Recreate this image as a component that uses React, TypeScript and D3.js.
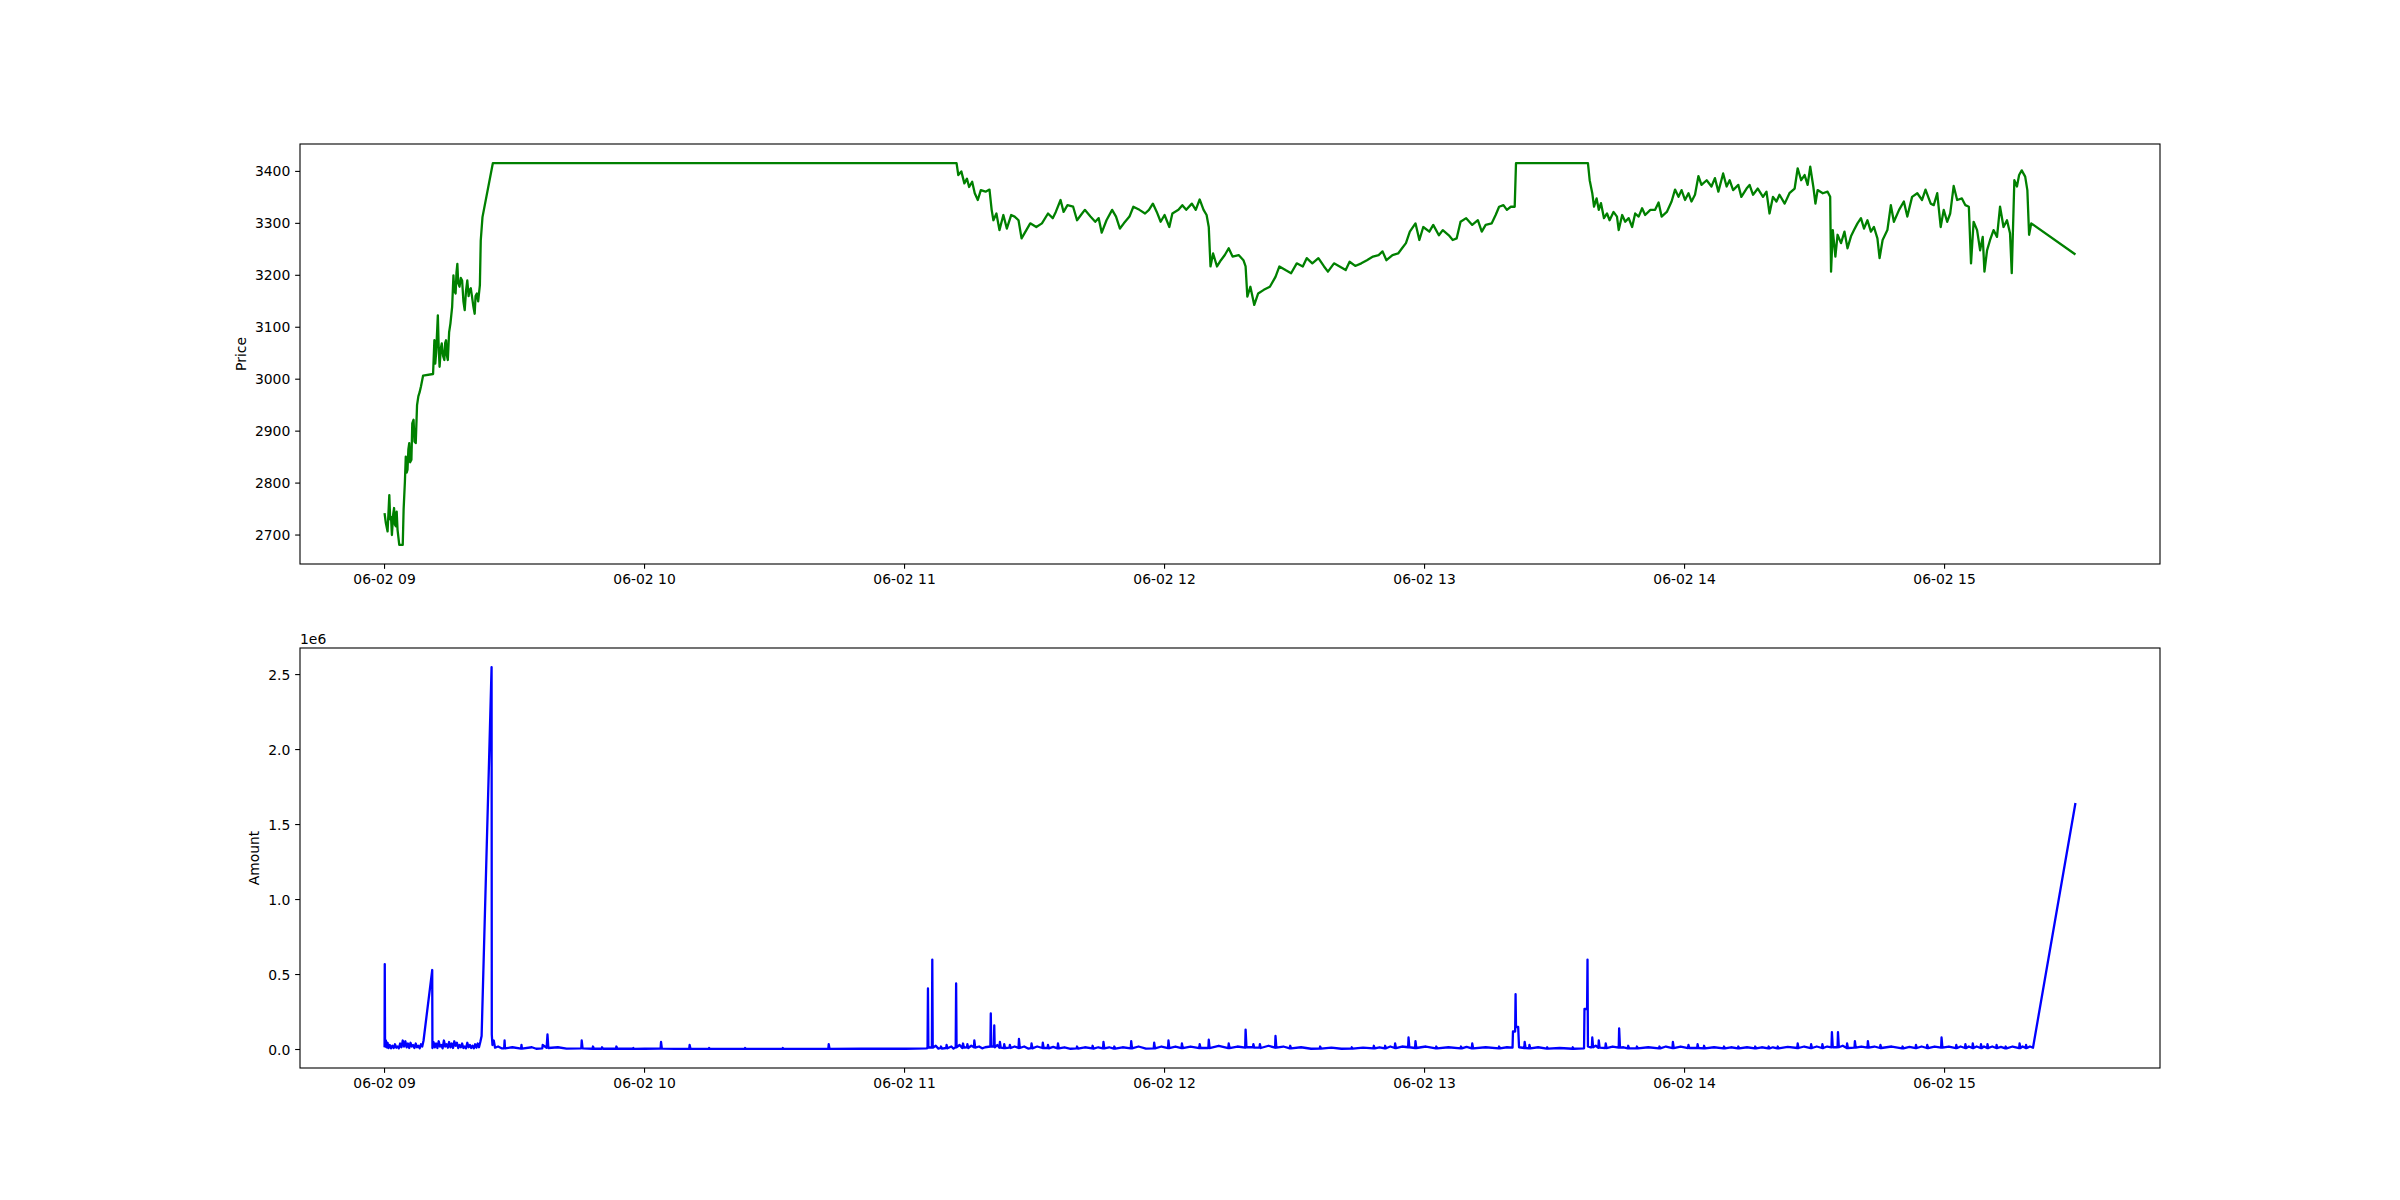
import { useEffect, useRef } from "react";
import * as d3 from "d3";

// ── Tokens ────────────────────────────────────────────────────────────────────

const FONT  = "'DejaVu Sans', sans-serif";
const GREEN = "#008000";
const BLUE  = "#0000ff";
const W = 2400, H = 1200;

// session start; every point below is [minutes after 09:00, value]
const START = new Date(2024, 5, 2, 9, 0, 0);

const priceTicks  = [2700, 2800, 2900, 3000, 3100, 3200, 3300, 3400];
const amountTicks = [0, 500000, 1000000, 1500000, 2000000, 2500000];

const pricePoints: [number, number][] = [
  // opening run-up
  [0, 2742], [0.3, 2723], [0.7, 2707], [1.1, 2777], [1.3, 2730], [1.5, 2735], [1.7, 2700],
  [2.0, 2740], [2.2, 2752], [2.4, 2720], [2.6, 2717], [2.8, 2745], [3.0, 2710], [3.4, 2681],
  [4.2, 2681], [4.4, 2749], [4.7, 2803], [4.9, 2851], [5.1, 2820], [5.3, 2826], [5.5, 2865],
  [5.7, 2877], [5.9, 2840], [6.2, 2845], [6.4, 2915], [6.7, 2922], [6.9, 2880], [7.2, 2877],
  [7.5, 2950], [7.8, 2967], [8.1, 2975], [8.4, 2986], [8.9, 3007], [11.2, 3010], [11.5, 3075],
  [11.7, 3030], [11.9, 3050], [12.3, 3123], [12.5, 3060], [12.7, 3024], [13.0, 3060],
  [13.2, 3069], [13.5, 3045], [13.8, 3037], [14.0, 3070], [14.2, 3075], [14.4, 3045],
  [14.6, 3037], [14.9, 3090], [15.2, 3107], [15.6, 3139], [15.9, 3200], [16.1, 3170],
  [16.4, 3165], [16.6, 3205], [16.8, 3222], [17.0, 3185], [17.3, 3178], [17.6, 3195],
  [17.9, 3190], [18.2, 3150], [18.5, 3133], [18.8, 3170], [19.1, 3190], [19.4, 3160],
  [19.6, 3171], [19.9, 3175], [20.2, 3158], [20.5, 3140], [20.8, 3126], [21.0, 3160],
  [21.3, 3165], [21.6, 3150], [22.0, 3181], [22.2, 3267], [22.6, 3312], [25.0, 3416],
  [132.0, 3416],
  // 11:12 – 13:21
  [132.4, 3393], [133.1, 3400], [133.8, 3377], [134.4, 3386], [134.9, 3370], [135.6, 3380],
  [136.2, 3358], [136.9, 3345], [137.6, 3364], [138.7, 3361], [139.6, 3365], [140.1, 3326],
  [140.5, 3306], [141.2, 3319], [141.9, 3287], [142.8, 3316], [143.6, 3290], [144.6, 3316],
  [145.4, 3313], [146.3, 3306], [147.0, 3271], [148.1, 3287], [149.0, 3300], [150.4, 3293],
  [151.7, 3300], [153.1, 3319], [154.2, 3310], [154.9, 3322], [156.0, 3345], [156.7, 3322],
  [157.6, 3335], [158.9, 3332], [159.8, 3306], [160.7, 3316], [161.6, 3326], [162.9, 3313],
  [164.0, 3303], [164.8, 3310], [165.5, 3282], [166.6, 3306], [167.9, 3326], [168.8, 3313],
  [169.7, 3290], [170.6, 3300], [171.9, 3313], [172.8, 3332], [174.2, 3326], [175.5, 3319],
  [176.4, 3326], [177.3, 3338], [178.2, 3322], [179.1, 3303], [180.0, 3316], [181.1, 3293],
  [181.8, 3319], [183.2, 3326], [184.1, 3335], [185.0, 3326], [186.3, 3338], [187.2, 3326],
  [188.1, 3346], [189.0, 3326], [189.7, 3316], [190.2, 3293], [190.6, 3217], [191.2, 3242],
  [192.1, 3217], [193.0, 3229], [193.9, 3239], [194.8, 3252], [195.7, 3236], [197.1, 3239],
  [198.2, 3229], [198.7, 3217], [199.1, 3159], [199.8, 3178], [200.7, 3143], [201.6, 3165],
  [202.9, 3172], [204.3, 3178], [205.6, 3197], [206.5, 3217], [207.9, 3210], [209.2, 3204],
  [210.5, 3223], [211.9, 3217], [212.8, 3233], [214.1, 3223], [215.5, 3233], [216.8, 3217],
  [217.7, 3207], [219.1, 3223], [220.4, 3217], [221.8, 3210], [222.7, 3226], [224.0, 3218],
  [225.4, 3223], [226.7, 3229], [228.1, 3236], [229.4, 3239], [230.3, 3246], [231.2, 3229],
  [232.6, 3239], [233.9, 3242], [234.8, 3252], [235.7, 3262], [236.6, 3284], [237.9, 3300],
  [238.8, 3268], [239.7, 3293], [241.1, 3284], [242.0, 3297], [243.3, 3277], [244.2, 3287],
  [245.6, 3277], [246.5, 3268], [247.4, 3271], [248.3, 3303], [249.6, 3310], [251.0, 3297],
  [252.3, 3306], [253.2, 3284], [254.1, 3297], [255.5, 3300], [256.4, 3316], [257.2, 3332],
  [258.2, 3335], [259.0, 3326], [259.9, 3332], [260.8, 3332], [261.1, 3416],
  [277.7, 3416],
  // 13:38 – close
  [278.1, 3383], [278.7, 3358], [279.1, 3332], [279.7, 3348], [280.2, 3326], [280.7, 3339],
  [281.4, 3310], [282.1, 3319], [282.7, 3306], [283.6, 3322], [284.4, 3313], [284.8, 3287],
  [285.6, 3316], [286.3, 3303], [287.1, 3310], [287.9, 3293], [288.6, 3319], [289.4, 3313],
  [290.2, 3329], [290.9, 3316], [292.1, 3326], [293.2, 3326], [294.0, 3340], [294.7, 3313],
  [295.9, 3322], [297.0, 3342], [297.8, 3365], [298.6, 3351], [299.3, 3364], [300.1, 3345],
  [300.9, 3358], [301.6, 3342], [302.4, 3355], [303.2, 3391], [303.9, 3374], [305.1, 3383],
  [306.2, 3371], [307.0, 3387], [307.8, 3361], [308.9, 3396], [309.7, 3371], [310.4, 3383],
  [311.2, 3364], [312.4, 3374], [313.1, 3351], [314.3, 3367], [315.0, 3374], [315.8, 3355],
  [316.9, 3367], [318.1, 3351], [318.9, 3361], [319.6, 3319], [320.4, 3351], [321.2, 3342],
  [321.9, 3355], [323.1, 3338], [324.2, 3358], [325.4, 3367], [326.1, 3406], [326.9, 3383],
  [327.7, 3393], [328.4, 3374], [329.0, 3409], [329.7, 3371], [330.2, 3338], [330.7, 3364],
  [331.9, 3358], [333.0, 3361], [333.6, 3351], [333.8, 3207], [334.2, 3287], [334.8, 3236],
  [335.3, 3278], [336.1, 3262], [336.9, 3284], [337.6, 3252], [338.4, 3275], [339.1, 3287],
  [339.9, 3300], [340.7, 3310], [341.4, 3290], [342.2, 3306], [343.0, 3284], [343.7, 3293],
  [344.5, 3271], [345.0, 3233], [345.7, 3268], [346.8, 3287], [347.6, 3335], [348.3, 3303],
  [349.5, 3326], [350.6, 3342], [351.4, 3313], [352.5, 3351], [353.7, 3358], [354.8, 3345],
  [355.6, 3365], [356.8, 3338], [357.5, 3335], [358.3, 3358], [359.1, 3293], [359.8, 3326],
  [360.6, 3303], [361.3, 3319], [362.1, 3372], [362.9, 3345], [364.0, 3348], [364.8, 3335],
  [365.6, 3332], [366.1, 3223], [366.7, 3303], [367.5, 3287], [368.2, 3248], [368.8, 3274],
  [369.2, 3207], [369.8, 3248], [370.5, 3268], [371.3, 3287], [372.1, 3274], [372.8, 3332],
  [373.6, 3293], [374.4, 3306], [375.1, 3281], [375.5, 3204], [376.1, 3383], [376.7, 3371],
  [377.2, 3393], [377.8, 3402], [378.6, 3390], [379.1, 3364], [379.5, 3278], [380.0, 3300],
  [390.2, 3240],
];

const amountPoints: [number, number][] = [
  // 09:00 – 09:25
  [0, 15000], [0.05, 570000], [0.12, 20000], [0.3, 60000], [0.5, 15000], [0.7, 45000],
  [0.9, 10000], [1.2, 30000], [1.5, 8000], [1.8, 25000], [2.1, 10000], [2.4, 35000],
  [2.7, 12000], [3.0, 20000], [3.3, 8000], [3.6, 40000], [3.9, 15000], [4.2, 60000],
  [4.5, 20000], [4.8, 55000], [5.1, 15000], [5.4, 40000], [5.7, 10000], [6.0, 45000],
  [6.3, 20000], [6.6, 30000], [6.9, 10000], [7.2, 40000], [7.5, 15000], [7.8, 25000],
  [8.1, 8000], [8.4, 35000], [8.7, 20000], [9.0, 60000],
  [11.0, 530000], [11.05, 10000], [11.3, 50000], [11.6, 15000], [11.9, 40000], [12.2, 10000],
  [12.5, 55000], [12.8, 20000], [13.1, 30000], [13.4, 8000], [13.7, 60000], [14.0, 20000],
  [14.3, 35000], [14.6, 12000], [14.9, 50000], [15.2, 15000], [15.5, 40000], [15.8, 10000],
  [16.1, 55000], [16.4, 25000], [16.7, 45000], [17.0, 10000], [17.3, 30000], [17.6, 15000],
  [17.9, 40000], [18.2, 10000], [18.5, 20000], [18.8, 8000], [19.1, 45000], [19.4, 15000],
  [19.7, 30000], [20.0, 10000], [20.3, 25000], [20.6, 8000], [20.9, 35000], [21.2, 12000],
  [21.5, 40000], [21.8, 15000], [22.1, 50000], [22.4, 90000],
  [24.7, 2550000], [24.75, 100000], [24.9, 30000], [25.2, 60000], [25.5, 12000],
  // quiet stretch
  [26.2, 20000], [27.0, 8000], [27.6, 8000], [27.7, 60000], [27.8, 8000], [29.5, 15000],
  [31.5, 6000], [31.6, 30000], [31.7, 6000], [34.0, 15000], [35.0, 5000], [36.4, 8000],
  [36.5, 30000], [37.4, 12000], [37.6, 100000], [37.8, 10000], [40.0, 15000], [42.0, 6000],
  [45.4, 8000], [45.5, 60000], [45.7, 8000], [48.0, 5000], [48.1, 20000], [48.3, 5000],
  [50.1, 5000], [50.2, 15000], [50.4, 5000], [53.4, 5000], [53.5, 20000], [53.7, 5000],
  [57.3, 5000], [57.4, 10000], [57.6, 4000], [60.0, 5000], [63.7, 6000], [63.8, 50000],
  [64.0, 6000], [67.0, 4000], [70.3, 5000], [70.4, 30000], [70.6, 5000], [74.8, 4000],
  [74.9, 10000], [75.1, 4000], [83.1, 4000], [83.2, 10000], [83.4, 4000], [91.8, 4000],
  [91.9, 10000], [92.1, 4000], [102.4, 4000], [102.5, 35000], [102.7, 4000], [110.0, 5000],
  [120.3, 5000],
  // 11:05 – close
  [125.0, 8000], [125.3, 10000], [125.4, 407000], [125.5, 12000], [126.3, 15000],
  [126.4, 600000], [126.5, 12000], [127.2, 25000], [127.8, 6000], [128.3, 10000],
  [128.4, 20000], [128.6, 6000], [129.6, 10000], [129.7, 30000], [129.9, 8000], [130.8, 20000],
  [131.3, 6000], [131.8, 15000], [131.9, 440000], [132.0, 15000], [132.7, 30000],
  [133.3, 10000], [133.5, 40000], [133.7, 12000], [134.4, 15000], [134.5, 35000],
  [134.7, 10000], [135.4, 25000], [136.0, 15000], [136.1, 60000], [136.3, 12000],
  [137.2, 20000], [137.9, 8000], [138.6, 15000], [139.8, 20000], [139.9, 240000],
  [140.0, 20000], [140.6, 20000], [140.7, 160000], [140.8, 15000], [141.4, 30000],
  [141.9, 12000], [142.0, 50000], [142.2, 12000], [142.9, 10000], [143.0, 35000],
  [143.2, 10000], [144.2, 12000], [144.3, 30000], [144.5, 10000], [145.4, 20000],
  [146.3, 10000], [146.4, 70000], [146.6, 10000], [147.6, 20000], [148.5, 6000],
  [149.2, 10000], [149.3, 40000], [149.5, 8000], [150.6, 20000], [151.8, 10000],
  [151.9, 45000], [152.1, 10000], [153.0, 10000], [153.1, 30000], [153.3, 8000],
  [154.3, 18000], [155.3, 8000], [155.4, 40000], [155.6, 8000], [156.9, 15000], [158.3, 5000],
  [159.7, 8000], [159.8, 20000], [160.0, 6000], [161.6, 15000], [163.3, 8000], [163.4, 25000],
  [163.6, 6000], [164.7, 15000], [165.8, 8000], [165.9, 50000], [166.1, 8000], [167.2, 15000],
  [168.3, 6000], [168.4, 20000], [168.6, 6000], [170.3, 15000], [172.2, 8000], [172.3, 55000],
  [172.5, 8000], [174.0, 20000], [175.7, 6000], [177.5, 8000], [177.6, 45000], [177.8, 8000],
  [179.3, 20000], [180.8, 10000], [180.9, 60000], [181.1, 10000], [182.5, 20000],
  [183.9, 10000], [184.0, 40000], [184.2, 10000], [186.0, 20000], [188.0, 10000],
  [188.1, 35000], [188.3, 10000], [190.1, 10000], [190.2, 65000], [190.4, 10000],
  [192.5, 25000], [194.7, 10000], [194.8, 40000], [195.0, 10000], [196.8, 20000],
  [198.6, 12000], [198.7, 133000], [198.9, 15000], [200.4, 15000], [200.5, 35000],
  [200.7, 12000], [201.9, 12000], [202.0, 35000], [202.2, 10000], [204.0, 25000],
  [205.5, 12000], [205.6, 90000], [205.8, 12000], [207.4, 20000], [208.9, 8000],
  [209.0, 25000], [209.2, 8000], [211.5, 15000], [213.8, 5000], [215.8, 6000], [215.9, 20000],
  [216.1, 6000], [218.5, 12000], [220.8, 5000], [223.1, 6000], [223.2, 15000], [223.4, 6000],
  [225.8, 12000], [228.2, 8000], [228.3, 25000], [228.5, 8000], [229.6, 15000], [230.8, 8000],
  [230.9, 25000], [231.1, 8000], [232.1, 20000], [233.1, 10000], [233.2, 40000],
  [233.4, 10000], [234.8, 20000], [236.2, 15000], [236.3, 80000], [236.5, 15000],
  [237.8, 10000], [237.9, 55000], [238.1, 10000], [240.3, 20000], [242.6, 8000],
  [242.7, 20000], [242.9, 8000], [245.5, 15000], [248.3, 8000], [248.4, 20000], [248.6, 8000],
  [249.7, 18000], [250.9, 8000], [251.0, 40000], [251.2, 8000], [254.1, 15000], [257.1, 8000],
  [257.2, 20000], [257.4, 8000], [259.0, 15000], [260.3, 12000], [260.4, 120000],
  [260.9, 120000], [261.0, 369000], [261.1, 150000], [261.6, 150000], [261.8, 15000],
  [263.0, 10000], [263.1, 50000], [263.3, 10000], [264.1, 8000], [264.2, 30000], [264.4, 8000],
  [266.2, 15000], [268.2, 6000], [268.3, 15000], [268.5, 6000], [271.2, 10000], [274.1, 5000],
  [274.2, 15000], [274.4, 5000], [276.8, 8000], [276.9, 270000], [277.5, 270000],
  [277.6, 600000], [277.7, 20000], [278.2, 15000], [278.6, 15000], [278.7, 80000],
  [278.9, 15000], [279.5, 25000], [280.1, 12000], [280.2, 60000], [280.4, 12000],
  [281.7, 10000], [281.8, 40000], [282.0, 10000], [283.4, 20000], [284.8, 12000],
  [284.9, 140000], [285.1, 12000], [285.9, 15000], [286.9, 8000], [287.0, 25000],
  [287.2, 8000], [288.9, 8000], [289.0, 20000], [289.2, 8000], [291.6, 15000], [294.1, 8000],
  [294.2, 20000], [294.4, 8000], [295.7, 20000], [297.2, 10000], [297.3, 50000],
  [297.5, 10000], [299.1, 20000], [300.8, 10000], [300.9, 30000], [301.1, 10000],
  [302.9, 10000], [303.0, 35000], [303.2, 10000], [304.4, 8000], [304.5, 25000], [304.7, 8000],
  [306.8, 15000], [309.0, 8000], [309.1, 20000], [309.3, 8000], [310.7, 15000], [312.3, 8000],
  [312.4, 20000], [312.6, 8000], [314.4, 15000], [316.2, 8000], [316.3, 20000], [316.5, 8000],
  [317.8, 15000], [319.3, 8000], [319.4, 20000], [319.6, 8000], [320.4, 15000], [321.4, 8000],
  [321.5, 20000], [321.7, 8000], [323.8, 18000], [326.0, 10000], [326.1, 40000],
  [326.3, 10000], [327.6, 20000], [329.1, 10000], [329.2, 35000], [329.4, 10000],
  [330.5, 20000], [331.7, 10000], [331.8, 35000], [332.0, 10000], [332.9, 20000],
  [333.9, 15000], [334.0, 115000], [334.2, 15000], [335.3, 15000], [335.4, 115000],
  [335.6, 15000], [336.5, 25000], [337.4, 10000], [337.5, 40000], [337.7, 10000],
  [339.2, 12000], [339.3, 55000], [339.5, 12000], [340.8, 20000], [342.2, 12000],
  [342.3, 55000], [342.5, 12000], [343.8, 20000], [345.1, 10000], [345.2, 30000],
  [345.4, 10000], [347.8, 20000], [350.2, 8000], [350.3, 20000], [350.5, 8000], [351.9, 18000],
  [353.3, 10000], [353.4, 30000], [353.6, 10000], [354.7, 20000], [355.9, 10000],
  [356.0, 30000], [356.2, 10000], [357.7, 20000], [359.2, 12000], [359.3, 80000],
  [359.5, 12000], [361.0, 20000], [362.6, 10000], [362.7, 30000], [362.9, 10000],
  [363.7, 20000], [364.7, 10000], [364.8, 35000], [365.0, 10000], [365.6, 20000],
  [366.4, 10000], [366.5, 40000], [366.7, 10000], [367.4, 20000], [368.3, 10000],
  [368.4, 35000], [368.6, 10000], [369.1, 20000], [369.8, 10000], [369.9, 35000],
  [370.1, 10000], [371.0, 20000], [371.9, 10000], [372.0, 30000], [372.2, 10000],
  [373.0, 18000], [374.0, 8000], [374.1, 20000], [374.3, 8000], [375.7, 20000],
  [377.2, 10000], [377.3, 40000], [377.5, 10000], [378.0, 20000], [378.7, 10000],
  [378.8, 30000], [379.0, 10000], [379.7, 20000], [380.4, 12000], [390.2, 1644000],
];

// ── Helpers ───────────────────────────────────────────────────────────────────

const toDate = (m: number) => new Date(START.getTime() + m * 60000);

// matplotlib-style 5% autoscale margin
function padded(lo: number, hi: number): [number, number] {
  const p = (hi - lo) * 0.05;
  return [lo - p, hi + p];
}

type Panel = {
  top: number;
  points: [number, number][];
  color: string;
  ticks: number[];
  fmt: (v: number) => string;
  label: string;
  labelX: number;
  offsetText?: string;
};

const LEFT = 300, RIGHT = 2160, AX_H = 420;
const TICK = 4.86, PAD = 4.86, FS = 13.9;

export default function App() {
  const svgRef = useRef<SVGSVGElement>(null);

  useEffect(() => {
    if (!svgRef.current) return;
    const svg = d3.select(svgRef.current);
    svg.selectAll("*").remove();

    const allMin = [...pricePoints, ...amountPoints].map(d => d[0]);
    const [t0, t1] = padded(d3.min(allMin)!, d3.max(allMin)!);
    const x = d3.scaleTime().domain([toDate(t0), toDate(t1)]).range([LEFT, RIGHT]);
    const hourTicks = d3.timeHour.range(toDate(0), toDate(t1));
    const fmtX = d3.timeFormat("%m-%d %H");

    const panels: Panel[] = [
      { top: 144, points: pricePoints, color: GREEN, ticks: priceTicks,
        fmt: v => String(v), label: "Price", labelX: 246 },
      { top: 648, points: amountPoints, color: BLUE, ticks: amountTicks,
        fmt: v => (v / 1e6).toFixed(1), label: "Amount", labelX: 259, offsetText: "1e6" },
    ];

    panels.forEach(p => {
      const bottom = p.top + AX_H;
      const vals = p.points.map(d => d[1]);
      const y = d3.scaleLinear()
        .domain(padded(d3.min(vals)!, d3.max(vals)!))
        .range([bottom, p.top]);

      const g = svg.append("g");

      // clip to axes
      const clipId = `clip-${p.top}`;
      g.append("clipPath").attr("id", clipId)
        .append("rect").attr("x", LEFT).attr("y", p.top)
        .attr("width", RIGHT - LEFT).attr("height", AX_H);

      const line = d3.line<[number, number]>()
        .x(d => x(toDate(d[0])))
        .y(d => y(d[1]));

      g.append("path")
        .datum(p.points)
        .attr("clip-path", `url(#${clipId})`)
        .attr("d", line)
        .attr("fill", "none")
        .attr("stroke", p.color)
        .attr("stroke-width", 2.3)
        .attr("stroke-linejoin", "round")
        .attr("stroke-linecap", "butt");

      // spines
      g.append("rect")
        .attr("x", LEFT).attr("y", p.top)
        .attr("width", RIGHT - LEFT).attr("height", AX_H)
        .attr("fill", "none").attr("stroke", "#000").attr("stroke-width", 1.1);

      // x axis ticks
      hourTicks.forEach(t => {
        const tx = x(t);
        g.append("line")
          .attr("x1", tx).attr("x2", tx)
          .attr("y1", bottom).attr("y2", bottom + TICK)
          .attr("stroke", "#000").attr("stroke-width", 1.1);
        g.append("text")
          .attr("x", tx).attr("y", bottom + TICK + PAD + 10.4)
          .attr("text-anchor", "middle")
          .attr("font-family", FONT).attr("font-size", FS)
          .attr("fill", "#000")
          .text(fmtX(t));
      });

      // y axis ticks
      p.ticks.forEach(v => {
        const ty = y(v);
        g.append("line")
          .attr("x1", LEFT - TICK).attr("x2", LEFT)
          .attr("y1", ty).attr("y2", ty)
          .attr("stroke", "#000").attr("stroke-width", 1.1);
        g.append("text")
          .attr("x", LEFT - TICK - PAD).attr("y", ty)
          .attr("dy", "0.36em")
          .attr("text-anchor", "end")
          .attr("font-family", FONT).attr("font-size", FS)
          .attr("fill", "#000")
          .text(p.fmt(v));
      });

      // y label
      g.append("text")
        .attr("transform", `translate(${p.labelX},${p.top + AX_H / 2}) rotate(-90)`)
        .attr("text-anchor", "middle")
        .attr("font-family", FONT).attr("font-size", FS)
        .attr("fill", "#000")
        .text(p.label);

      if (p.offsetText) {
        g.append("text")
          .attr("x", LEFT).attr("y", p.top - 4)
          .attr("font-family", FONT).attr("font-size", FS)
          .attr("fill", "#000")
          .text(p.offsetText);
      }
    });
  }, []);

  return (
    <div style={{ position: "absolute", left: 0, top: 0, background: "#fff" }}>
      <svg ref={svgRef} width={W} height={H} viewBox={`0 0 ${W} ${H}`} style={{ display: "block" }} />
    </div>
  );
}
